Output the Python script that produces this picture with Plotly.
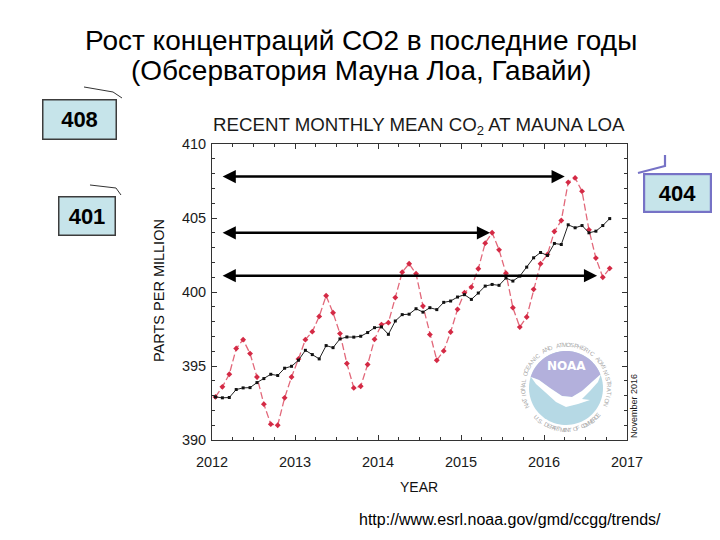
import numpy as np
import plotly.graph_objects as go

# ---------------- data ----------------
start_year = 2012
monthly_mean = [
    392.91, 393.59, 394.44, 396.18, 396.78, 395.84, 394.26, 392.42, 391.07, 391.00, 392.85, 394.26,
    395.48, 396.78, 397.32, 398.35, 399.75, 398.60, 397.19, 395.17, 393.52, 393.63, 395.10, 396.80,
    397.80, 397.93, 399.62, 401.34, 401.91, 401.23, 399.05, 397.12, 395.39, 396.02, 397.30, 398.83,
    399.95, 400.33, 401.57, 403.30, 404.00, 402.85, 401.27, 398.94, 397.63, 398.31, 400.18, 401.91,
    402.54, 404.09, 404.83, 407.41, 407.71, 406.80, 404.20, 402.29, 401.00, 401.60,
]
trend = [
    392.91, 392.85, 392.87, 393.41, 393.52, 393.54, 393.88, 394.15, 394.44, 394.36, 394.85, 394.98,
    395.39, 396.06, 395.77, 395.48, 396.38, 396.24, 396.83, 396.96, 396.95, 397.01, 397.26, 397.59,
    397.64, 397.14, 398.04, 398.47, 398.50, 398.87, 398.64, 398.94, 398.81, 399.30, 399.39, 399.66,
    399.82, 399.50, 399.93, 400.40, 400.51, 400.45, 400.94, 400.74, 401.07, 401.68, 402.31, 402.67,
    402.47, 403.28, 403.21, 404.54, 404.34, 404.49, 404.00, 404.11, 404.49, 404.96,
]
x_ticks = [2012, 2013, 2014, 2015, 2016, 2017]
y_ticks = [390, 395, 400, 405, 410]
# reference arrows: (level, start year, end year)
arrow_levels = [407.8, 404.0, 401.1]
arrow_start = [2012.11, 2012.11, 2012.11]
arrow_end = [2016.25, 2015.35, 2016.64]
box_labels = ["408", "401", "404"]

months = np.arange(len(monthly_mean))
dec_year = start_year + (months + 0.5) / 12.0

# ---------------- geometry helpers ----------------
OFF = 8  # page body margin
L, R, T, B = 212, 627, 144, 440
W, H = 720 - OFF, 540 - OFF


def px(x):
    return (x - L) / (R - L)


def py(y):
    return (B - y) / (B - T)


fig = go.Figure()

fig.add_trace(go.Scatter(
    x=dec_year, y=monthly_mean, mode="lines+markers",
    line=dict(color="#e2687a", width=1.3, dash="7px,3px"),
    marker=dict(color="#d42a45", size=4.5, symbol="diamond"),
    hoverinfo="skip", showlegend=False,
))
fig.add_trace(go.Scatter(
    x=dec_year, y=trend, mode="lines+markers",
    line=dict(color="#222222", width=1),
    marker=dict(color="#111111", size=3, symbol="square"),
    hoverinfo="skip", showlegend=False,
))

axis_font = dict(family="Liberation Sans, Arial, sans-serif", size=14.5, color="#1a1a1a")

fig.update_layout(
    width=W, height=H,
    margin=dict(l=L - OFF, r=720 - R, t=T - OFF, b=540 - B),
    paper_bgcolor="white", plot_bgcolor="white",
    showlegend=False,
    xaxis=dict(
        range=[2012, 2017], tickvals=x_ticks, ticktext=[str(v) for v in x_ticks],
        ticks="inside", ticklen=5, tickcolor="#333", mirror="ticks",
        showline=True, linecolor="#333", linewidth=1, showgrid=False, zeroline=False,
        minor=dict(dtick=0.25, ticks="inside", ticklen=3, tickcolor="#333"),
        tickfont=axis_font, fixedrange=True, ticklabelstandoff=9,
    ),
    yaxis=dict(
        range=[390, 410], tickvals=y_ticks, ticktext=[str(v) for v in y_ticks],
        ticks="inside", ticklen=5, tickcolor="#333", mirror="ticks",
        showline=True, linecolor="#333", linewidth=1, showgrid=False, zeroline=False,
        minor=dict(dtick=1, ticks="inside", ticklen=3, tickcolor="#333"),
        tickfont=axis_font, fixedrange=True, ticklabelstandoff=2,
    ),
)

ann = []
font_main = "Liberation Sans, Arial, sans-serif"


def text_at(txt, x, y, size, color="black", angle=0, family=font_main):
    ann.append(dict(text=txt, x=px(x), y=py(y), xref="paper", yref="paper",
                    showarrow=False, xanchor="center", yanchor="middle", textangle=angle,
                    font=dict(family=family, size=size, color=color)))


# main titles
text_at("Рост концентраций СО2 в последние годы", 361, 40, 28)
text_at("(Обсерватория Мауна Лоа, Гавайи)", 361, 71, 28)
# inner chart title
text_at("RECENT MONTHLY MEAN CO<sub>2</sub> AT MAUNA LOA", 419, 126, 18.7, "#1a1a1a")
# axis titles
text_at("PARTS PER MILLION", 159, 291, 14.5, "#111111", -90)
text_at("YEAR", 419, 487, 14, "#111111")
text_at("November 2016", 634, 406, 9, "#1a1a1a", -90)
text_at("http://www.esrl.noaa.gov/gmd/ccgg/trends/", 510, 519, 16)

# arrows (double headed)
for lvl, a0, a1 in zip(arrow_levels, arrow_start, arrow_end):
    ann.append(dict(x=a1, y=lvl, ax=a0, ay=lvl, xref="x", yref="y", axref="x", ayref="y",
                    text="", showarrow=True, arrowhead=2, startarrowhead=2,
                    arrowside="end+start", arrowsize=1.1, startarrowsize=1.1,
                    arrowwidth=2.4, arrowcolor="black", standoff=0, startstandoff=0))

# value boxes
boxes = [
    (79.5, 119.5, 75, 41, "#3c3c3c", 1.5),
    (87, 216, 58, 40, "#3c3c3c", 1.5),
    (677.5, 193, 69, 40, "#7672c6", 2.2),
]
for lab, (cx, cy, bw, bh, bc, bwid) in zip(box_labels, boxes):
    ann.append(dict(text="<b>%s</b>" % lab, x=px(cx), y=py(cy), xref="paper", yref="paper",
                    showarrow=False, width=bw - 2 * bwid, height=bh - 2 * bwid,
                    bgcolor="#c6e4ea", bordercolor=bc, borderwidth=bwid, borderpad=0,
                    xanchor="center", yanchor="middle",
                    font=dict(family=font_main, size=22, color="black")))

shapes = []


def poly_path(pts):
    s = "M " + " L ".join("%.5f,%.5f" % (px(x), py(y)) for x, y in pts)
    return s + " Z"


def line_path(pts):
    return "M " + " L ".join("%.5f,%.5f" % (px(x), py(y)) for x, y in pts)


# callout lines
shapes.append(dict(type="path", xref="paper", yref="paper",
                   path=line_path([(84, 87), (113, 92), (122, 98)]),
                   line=dict(color="#333", width=1)))
shapes.append(dict(type="path", xref="paper", yref="paper",
                   path=line_path([(90, 185), (116, 188), (121, 195)]),
                   line=dict(color="#333", width=1)))
shapes.append(dict(type="path", xref="paper", yref="paper",
                   path=line_path([(638, 173), (665, 166), (665, 155)]),
                   line=dict(color="#7672c6", width=2.2)))

# NOAA logo (decoration)
cxl, cyl, rd = 566, 388, 37
th = np.linspace(0, 2 * np.pi, 90)
disc = [(cxl + rd * np.cos(t), cyl - rd * np.sin(t)) for t in th]
shapes.append(dict(type="path", xref="paper", yref="paper", path=poly_path(disc),
                   fillcolor="#b6d9e5", line=dict(width=0), layer="above"))
# lavender upper part
arc = np.linspace(np.radians(163), np.radians(22), 50)
upper = [(cxl + rd * np.cos(t), cyl - rd * np.sin(t)) for t in arc]
wing_lo = [(601, 374), (592, 382), (582, 391), (572, 397), (562, 396), (550, 388), (539, 380), (531, 377)]
shapes.append(dict(type="path", xref="paper", yref="paper", path=poly_path(upper + wing_lo),
                   fillcolor="#b3b0dc", line=dict(width=0), layer="above"))
# white bird swoosh
swoosh = [(531, 377), (539, 380), (550, 388), (562, 396), (572, 397), (582, 391), (592, 382),
          (601, 374), (598, 382), (590, 391), (582, 399), (590, 400), (578, 404), (566, 407),
          (556, 402), (545, 392), (536, 384)]
shapes.append(dict(type="path", xref="paper", yref="paper", path=poly_path(swoosh),
                   fillcolor="white", line=dict(width=0), layer="above"))
text_at("<b>NOAA</b>", 566, 366, 12, "white", 0, "DejaVu Sans, sans-serif")
# ring text
top_txt = "NATIONAL OCEANIC AND ATMOSPHERIC ADMINISTRATION"
bot_txt = "U.S. DEPARTMENT OF COMMERCE"
rr = 43
for i, ch in enumerate(top_txt):
    ang = 205 - (205 + 22) * i / (len(top_txt) - 1)
    a = np.radians(ang)
    text_at(ch, cxl + rr * np.cos(a), cyl - rr * np.sin(a), 6, "#a8a8a8", 90 - ang)
for i, ch in enumerate(bot_txt):
    ang = 224 + (320 - 224) * i / (len(bot_txt) - 1)
    a = np.radians(ang)
    text_at(ch, cxl + (rr - 1) * np.cos(a), cyl - (rr - 1) * np.sin(a), 6, "#a8a8a8", 270 - ang)

fig.update_layout(annotations=ann, shapes=shapes)
fig.write_html("out.html")
